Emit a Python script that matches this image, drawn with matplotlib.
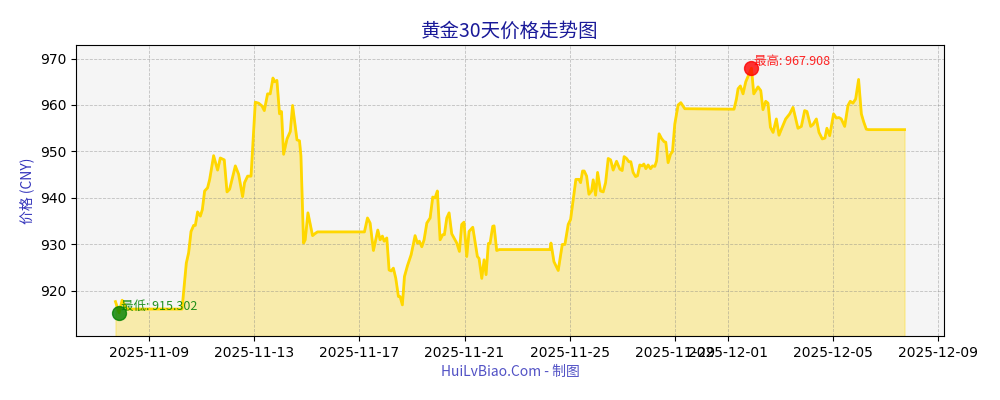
import pandas as pd
import numpy as np
import matplotlib
matplotlib.use("Agg")
import matplotlib.pyplot as plt

plt.rcParams['font.family'] = ['DejaVu Sans', 'Noto Sans CJK SC']
cjk = ['Noto Sans CJK SC', 'DejaVu Sans']

# price readings (time, CNY)
times = [
	"2025-11-07 17:42", "2025-11-07 21:00", "2025-11-07 23:48", "2025-11-08 02:48", "2025-11-08 04:36",
	"2025-11-10 06:24", "2025-11-10 10:18", "2025-11-10 12:24", "2025-11-10 14:36", "2025-11-10 17:00",
	"2025-11-10 18:30", "2025-11-10 20:36", "2025-11-10 23:06", "2025-11-11 00:54", "2025-11-11 03:00",
	"2025-11-11 05:42", "2025-11-11 07:36", "2025-11-11 11:12", "2025-11-11 14:48", "2025-11-11 17:18",
	"2025-11-11 20:54", "2025-11-11 23:24", "2025-11-12 01:48", "2025-11-12 04:00", "2025-11-12 07:00",
	"2025-11-12 10:00", "2025-11-12 13:36", "2025-11-12 15:24", "2025-11-12 18:12", "2025-11-12 21:18",
	"2025-11-13 01:12", "2025-11-13 04:12", "2025-11-13 07:18", "2025-11-13 09:24", "2025-11-13 12:24",
	"2025-11-13 14:48", "2025-11-13 17:18", "2025-11-13 18:48", "2025-11-13 20:54", "2025-11-13 23:18",
	"2025-11-14 01:06", "2025-11-14 03:00", "2025-11-14 06:06", "2025-11-14 09:06", "2025-11-14 11:12",
	"2025-11-14 15:12", "2025-11-14 17:30", "2025-11-14 18:48", "2025-11-14 21:12", "2025-11-14 22:42",
	"2025-11-15 01:12", "2025-11-15 05:24", "2025-11-15 07:24", "2025-11-15 09:54", "2025-11-17 04:42",
	"2025-11-17 07:30", "2025-11-17 09:54", "2025-11-17 12:54", "2025-11-17 16:54", "2025-11-17 19:00",
	"2025-11-17 21:06", "2025-11-17 22:42", "2025-11-18 01:06", "2025-11-18 03:12", "2025-11-18 05:06",
	"2025-11-18 07:06", "2025-11-18 09:18", "2025-11-18 11:42", "2025-11-18 13:12", "2025-11-18 15:18",
	"2025-11-18 17:12", "2025-11-18 19:54", "2025-11-18 23:18", "2025-11-19 02:54", "2025-11-19 05:00",
	"2025-11-19 06:48", "2025-11-19 09:00", "2025-11-19 11:06", "2025-11-19 13:36", "2025-11-19 16:36",
	"2025-11-19 19:00", "2025-11-19 21:06", "2025-11-19 23:12", "2025-11-20 01:42", "2025-11-20 04:06",
	"2025-11-20 05:36", "2025-11-20 07:48", "2025-11-20 09:54", "2025-11-20 12:18", "2025-11-20 15:18",
	"2025-11-20 16:54", "2025-11-20 19:18", "2025-11-20 21:24", "2025-11-20 23:30", "2025-11-21 02:00",
	"2025-11-21 04:06", "2025-11-21 07:30", "2025-11-21 11:42", "2025-11-21 13:12", "2025-11-21 15:42",
	"2025-11-21 17:48", "2025-11-21 19:36", "2025-11-21 21:42", "2025-11-21 23:12", "2025-11-22 01:42",
	"2025-11-22 02:54", "2025-11-22 05:18", "2025-11-22 07:42", "2025-11-24 05:54", "2025-11-24 06:48",
	"2025-11-24 09:30", "2025-11-24 13:24", "2025-11-24 17:06", "2025-11-24 19:30", "2025-11-24 22:30",
	"2025-11-25 00:42", "2025-11-25 05:30", "2025-11-25 08:18", "2025-11-25 09:48", "2025-11-25 11:36",
	"2025-11-25 13:06", "2025-11-25 15:18", "2025-11-25 17:24", "2025-11-25 19:48", "2025-11-25 21:18",
	"2025-11-25 23:30", "2025-11-26 01:18", "2025-11-26 04:00", "2025-11-26 06:24", "2025-11-26 08:36",
	"2025-11-26 11:00", "2025-11-26 13:12", "2025-11-26 15:30", "2025-11-26 18:36", "2025-11-26 21:36",
	"2025-11-26 23:42", "2025-11-27 01:30", "2025-11-27 03:42", "2025-11-27 05:48", "2025-11-27 07:36",
	"2025-11-27 09:42", "2025-11-27 11:54", "2025-11-27 13:42", "2025-11-27 15:48", "2025-11-27 17:54",
	"2025-11-27 19:30", "2025-11-27 21:18", "2025-11-27 23:24", "2025-11-28 01:36", "2025-11-28 03:24",
	"2025-11-28 05:30", "2025-11-28 07:06", "2025-11-28 09:24", "2025-11-28 11:36", "2025-11-28 14:00",
	"2025-11-28 15:30", "2025-11-28 17:36", "2025-11-28 19:48", "2025-11-28 21:36", "2025-11-28 23:42",
	"2025-11-29 02:42", "2025-11-29 05:12", "2025-11-29 08:48", "2025-12-01 05:42", "2025-12-01 07:54",
	"2025-12-01 09:24", "2025-12-01 11:30", "2025-12-01 13:54", "2025-12-01 16:24", "2025-12-01 21:36",
	"2025-12-01 23:42", "2025-12-02 03:36", "2025-12-02 06:06", "2025-12-02 08:06", "2025-12-02 10:36",
	"2025-12-02 12:42", "2025-12-02 14:54", "2025-12-02 17:18", "2025-12-02 20:18", "2025-12-02 22:42",
	"2025-12-03 00:54", "2025-12-03 04:48", "2025-12-03 08:30", "2025-12-03 11:30", "2025-12-03 16:00",
	"2025-12-03 19:06", "2025-12-03 22:06", "2025-12-04 00:12", "2025-12-04 03:36", "2025-12-04 05:42",
	"2025-12-04 08:48", "2025-12-04 11:12", "2025-12-04 14:12", "2025-12-04 16:36", "2025-12-04 18:24",
	"2025-12-04 20:54", "2025-12-05 00:30", "2025-12-05 03:00", "2025-12-05 05:24", "2025-12-05 07:30",
	"2025-12-05 10:36", "2025-12-05 13:36", "2025-12-05 15:42", "2025-12-05 18:06", "2025-12-05 20:36",
	"2025-12-05 23:18", "2025-12-06 01:48", "2025-12-06 03:54", "2025-12-06 06:18", "2025-12-06 08:12",
	"2025-12-07 17:12",
]
prices = [
	917.7, 915.302, 918.0, 916.6, 916.1,
	916.1, 926.0, 928.2, 932.8, 934.1,
	934.1, 937.0, 936.1, 937.5, 941.5,
	942.2, 944.0, 949.1, 946.0, 948.6,
	948.2, 941.3, 941.9, 944.0, 946.9,
	945.1, 940.3, 943.3, 944.7, 944.7,
	960.6, 960.4, 959.8, 958.8, 962.4,
	962.4, 965.8, 965.0, 965.3, 958.1,
	958.6, 949.4, 952.7, 954.3, 959.9,
	952.5, 952.3, 949.1, 930.3, 931.0,
	936.8, 931.9, 932.3, 932.7, 932.7,
	935.7, 934.6, 928.7, 933.1, 931.0,
	931.8, 930.7, 931.4, 924.5, 924.3,
	924.9, 922.7, 918.8, 918.8, 917.0,
	923.1, 925.4, 927.8, 931.9, 930.3,
	930.7, 929.5, 931.0, 934.6, 935.7,
	940.2, 940.0, 941.5, 931.0, 932.1,
	932.1, 935.7, 936.8, 932.3, 931.0,
	930.3, 928.5, 934.3, 934.8, 927.4,
	932.8, 933.7, 927.4, 927.0, 922.7,
	926.7, 923.5, 930.2, 930.2, 933.9,
	934.0, 928.7, 928.9, 928.9, 930.3,
	926.3, 924.4, 930.0, 930.0, 934.3,
	935.4, 944.0, 944.0, 943.3, 945.8,
	945.8, 944.7, 940.8, 941.5, 943.9,
	940.6, 945.5, 941.5, 941.3, 943.3,
	948.5, 948.2, 946.0, 947.9, 946.2,
	945.9, 948.9, 948.5, 947.8, 947.8,
	945.5, 944.6, 944.8, 947.1, 946.9,
	947.3, 946.3, 947.1, 946.3, 946.9,
	946.8, 948.0, 953.8, 952.8, 952.1,
	952.0, 947.6, 949.4, 950.0, 955.9,
	960.0, 960.5, 959.2, 959.1, 961.3,
	963.5, 964.1, 962.4, 965.0, 967.908,
	962.4, 963.9, 963.1, 959.0, 960.8,
	960.4, 955.2, 954.1, 957.0, 953.5,
	954.8, 957.0, 958.1, 959.5, 955.0,
	955.4, 958.8, 958.6, 955.4, 955.8,
	957.0, 954.1, 952.7, 952.9, 955.0,
	953.4, 958.1, 957.2, 957.3, 957.0,
	955.4, 959.9, 960.8, 960.4, 961.3,
	965.5, 958.1, 956.4, 954.8, 954.7,
	954.7,
]

df = pd.DataFrame({"time": pd.to_datetime(times), "price": prices})

imax = df["price"].idxmax()
imin = df["price"].idxmin()
pmax = df["price"][imax]
pmin = df["price"][imin]
ybot = pmin - 5

fig, ax = plt.subplots(figsize=(10, 4), dpi=100)
fig.subplots_adjust(left=0.076, right=0.944, top=0.8875, bottom=0.16)
ax.set_facecolor("#f5f5f5")

ax.plot(df["time"], df["price"], color="#FFD700", linewidth=2)
ax.fill_between(df["time"], df["price"], ybot, color="#FFD700", alpha=0.3)

ax.scatter(df["time"][imax], pmax, s=100, color="red", alpha=0.8, zorder=5)
ax.scatter(df["time"][imin], pmin, s=100, color="green", alpha=0.8, zorder=5)
ax.annotate("最高: {:.3f}".format(pmax), xy=(df["time"][imax], pmax), xytext=(1.5, 4.5),
	textcoords="offset points", va="center", fontsize=9, color="red", family=cjk, alpha=0.85)
ax.annotate("最低: {:.3f}".format(pmin), xy=(df["time"][imin], pmin), xytext=(1.5, 4.5),
	textcoords="offset points", va="center", fontsize=9, color="green", family=cjk, alpha=0.85)

ax.set_ylim(ybot, pmax + 5)
ax.grid(True, linestyle="--", color="gray", alpha=0.45, linewidth=0.6)

ax.set_title("黄金30天价格走势图", fontsize=14, color="#1a1a99", family=cjk)
ax.set_ylabel("价格 (CNY)", fontsize=10, color="#3333bb", family=cjk)
fig.text(0.51, 0.07, "HuiLvBiao.Com - 制图", ha="center", va="center", fontsize=10,
	color="#3333bb", alpha=0.85, family=cjk)

fig.savefig("out.png", dpi=100)
